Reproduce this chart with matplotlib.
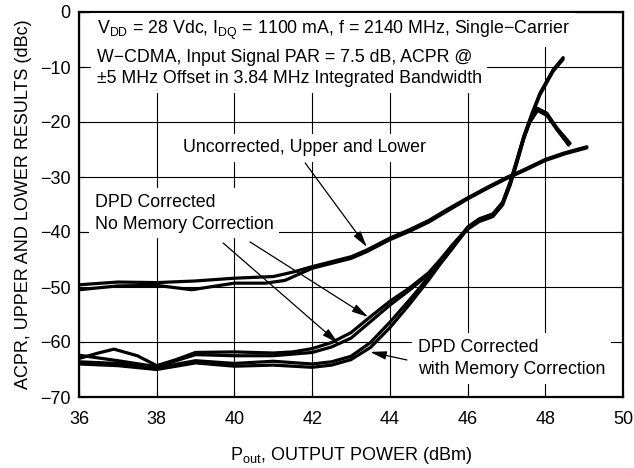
import numpy as np
import matplotlib
matplotlib.use("Agg")
import matplotlib.pyplot as plt

# no narrow face installed, Liberation Sans (Arial metrics) is the closest
plt.rcParams['font.family'] = ['Liberation Sans', 'DejaVu Sans']
plt.rcParams['mathtext.fontset'] = 'custom'
plt.rcParams['mathtext.rm'] = 'Liberation Sans'
plt.rcParams['mathtext.it'] = 'Liberation Sans'

# Uncorrected ACPR, upper and lower
unc_hi_x = [36, 37, 38, 39, 40, 41, 41.5, 42, 42.5, 43, 43.4, 44, 44.5, 45, 45.5, 46, 46.5, 47, 47.5, 48, 48.5, 49.07]
unc_hi_y = [-49.6, -49.1, -49.2, -48.9, -48.4, -48.1, -47.3, -46.3, -45.4, -44.5, -43.3, -41.1, -39.6, -37.9, -35.8, -33.8, -31.9, -30.1, -28.5, -26.8, -25.6, -24.5]
unc_lo_x = [36, 37, 38, 38.9, 40, 40.8, 41.3, 42, 42.5, 43, 43.4, 44, 44.5, 45, 45.5, 46, 46.5, 47, 47.5, 48, 48.5, 49.07]
unc_lo_y = [-50.5, -49.8, -49.7, -50.5, -49.3, -49.3, -48.8, -46.6, -45.7, -44.8, -43.6, -41.4, -39.9, -38.2, -36.1, -34.0, -32.1, -30.3, -28.7, -27.0, -25.8, -24.7]

# DPD corrected, no memory correction
nomem_hi_x = [36, 36.5, 36.9, 37.5, 38, 38.5, 39, 40, 41, 41.5, 42, 42.5, 43, 43.5, 44, 44.5, 45, 45.3, 45.6, 46, 46.3, 46.65, 46.9, 47.1, 47.25, 47.45, 47.6, 47.8, 48.04, 48.3, 48.64]
nomem_hi_y = [-63.0, -62.0, -61.3, -62.5, -64.3, -63.2, -61.9, -61.8, -62.0, -61.8, -61.2, -60.1, -58.3, -55.4, -52.6, -50.2, -47.4, -45.0, -42.4, -39.3, -37.8, -36.9, -34.8, -31.1, -27.6, -22.7, -19.8, -17.5, -18.4, -21.1, -23.9]
nomem_lo_x = [36, 37, 38, 39, 40, 41, 42, 42.5, 43, 43.5, 44, 44.5, 45, 45.3, 45.6, 46, 46.3, 46.65, 46.9, 47.1, 47.25, 47.45, 47.6, 47.8, 48.04, 48.3, 48.6]
nomem_lo_y = [-62.4, -63.4, -64.5, -62.3, -62.5, -62.5, -61.9, -60.9, -59.3, -56.3, -53.3, -50.6, -47.7, -45.3, -42.6, -39.5, -38.1, -37.2, -35.1, -31.4, -27.9, -23.0, -20.1, -17.9, -18.8, -21.4, -24.2]

# DPD corrected, with memory correction
mem_hi_x = [36, 37, 38, 39, 40, 41, 42, 42.5, 43, 43.5, 44, 44.5, 45, 45.3, 45.6, 46, 46.3, 46.65, 46.9, 47.1, 47.25, 47.45, 47.66, 47.86, 48.2, 48.46]
mem_hi_y = [-63.6, -63.9, -64.7, -63.4, -63.9, -63.5, -64.0, -63.6, -62.6, -60.1, -56.4, -52.4, -48.2, -45.4, -42.8, -39.1, -37.6, -36.7, -34.6, -30.8, -27.3, -22.5, -18.4, -14.8, -10.5, -8.3]
mem_lo_x = [36, 37, 38, 39, 40, 41, 42, 42.5, 43, 43.5, 44, 44.5, 45, 45.3, 45.6, 46, 46.3, 46.65, 46.9, 47.1, 47.25, 47.45, 47.66, 47.86, 48.2, 48.46]
mem_lo_y = [-64.0, -64.3, -65.0, -63.8, -64.4, -64.2, -64.6, -64.2, -63.2, -61.0, -57.4, -53.2, -48.7, -45.8, -43.1, -39.4, -37.9, -37.0, -34.9, -31.1, -27.6, -22.8, -18.7, -15.1, -10.8, -8.6]

x_ticks = [36, 38, 40, 42, 44, 46, 48, 50]
y_ticks = [0, -10, -20, -30, -40, -50, -60, -70]

fig = plt.figure(figsize=(6.34, 4.68), dpi=100)
ax = fig.add_axes([79/634, 1 - 397/468, (623 - 79)/634, (397 - 12)/468])

for xs, ys in [(unc_hi_x, unc_hi_y), (unc_lo_x, unc_lo_y),
               (nomem_hi_x, nomem_hi_y), (nomem_lo_x, nomem_lo_y),
               (mem_hi_x, mem_hi_y), (mem_lo_x, mem_lo_y)]:
    ax.plot(xs, ys, color='black', lw=2.3, solid_capstyle='round', zorder=3)

ax.set_xlim(36, 50)
ax.set_ylim(-70, 0)
ax.set_xticks(x_ticks)
ax.set_yticks(y_ticks)
ax.grid(True, color='black', lw=0.8)
ax.set_axisbelow(True)
for s in ax.spines.values():
    s.set_linewidth(1.6)
ax.tick_params(direction='in', length=5, width=0.8, labelsize=13,
               top=True, right=True)
ax.tick_params(axis='x', pad=10)
ax.tick_params(axis='y', pad=6)
ax.set_xlabel(r'P$_{\mathrm{out}}$, OUTPUT POWER (dBm)', fontsize=13, labelpad=12)
ax.set_ylabel('ACPR, UPPER AND LOWER RESULTS (dBc)', fontsize=13, labelpad=6)

box = dict(facecolor='white', edgecolor='none', pad=4)
fs = 12.8
ax.text(36.46, -3.27, r'V$_{\mathrm{DD}}$ = 28 Vdc, I$_{\mathrm{DQ}}$ = 1100 mA, f = 2140 MHz, Single−Carrier',
        fontsize=fs, va='center', ha='left', bbox=box, zorder=4)
ax.text(36.46, -10.2, 'W−CDMA, Input Signal PAR = 7.5 dB, ACPR @\n±5 MHz Offset in 3.84 MHz Integrated Bandwidth',
        fontsize=fs, va='center', ha='left', bbox=box, linespacing=1.35, zorder=4)
ax.text(38.68, -24.7, 'Uncorrected, Upper and Lower', fontsize=fs, va='center', ha='left',
        bbox=box, zorder=4)
ax.text(36.41, -36.6, 'DPD Corrected\nNo Memory Correction', fontsize=fs, va='center', ha='left',
        bbox=box, linespacing=1.4, zorder=4)
ax.text(44.72, -63.0, 'DPD Corrected\nwith Memory Correction', fontsize=fs, va='center', ha='left',
        bbox=box, linespacing=1.4, zorder=4)

arrow = dict(arrowstyle='-|>,head_length=0.7,head_width=0.18', color='black', lw=0.9,
             shrinkA=0, shrinkB=0, mutation_scale=14)
ax.annotate('', xy=(43.41, -42.73), xytext=(41.82, -27.45), arrowprops=arrow, zorder=5)
ax.annotate('', xy=(42.67, -60.2), xytext=(39.71, -42.0), arrowprops=arrow, zorder=5)
ax.annotate('', xy=(43.44, -55.45), xytext=(40.40, -41.8), arrowprops=arrow, zorder=5)
ax.annotate('', xy=(43.49, -61.8), xytext=(44.44, -63.27), arrowprops=arrow, zorder=5)

fig.savefig('out.png', dpi=100)
